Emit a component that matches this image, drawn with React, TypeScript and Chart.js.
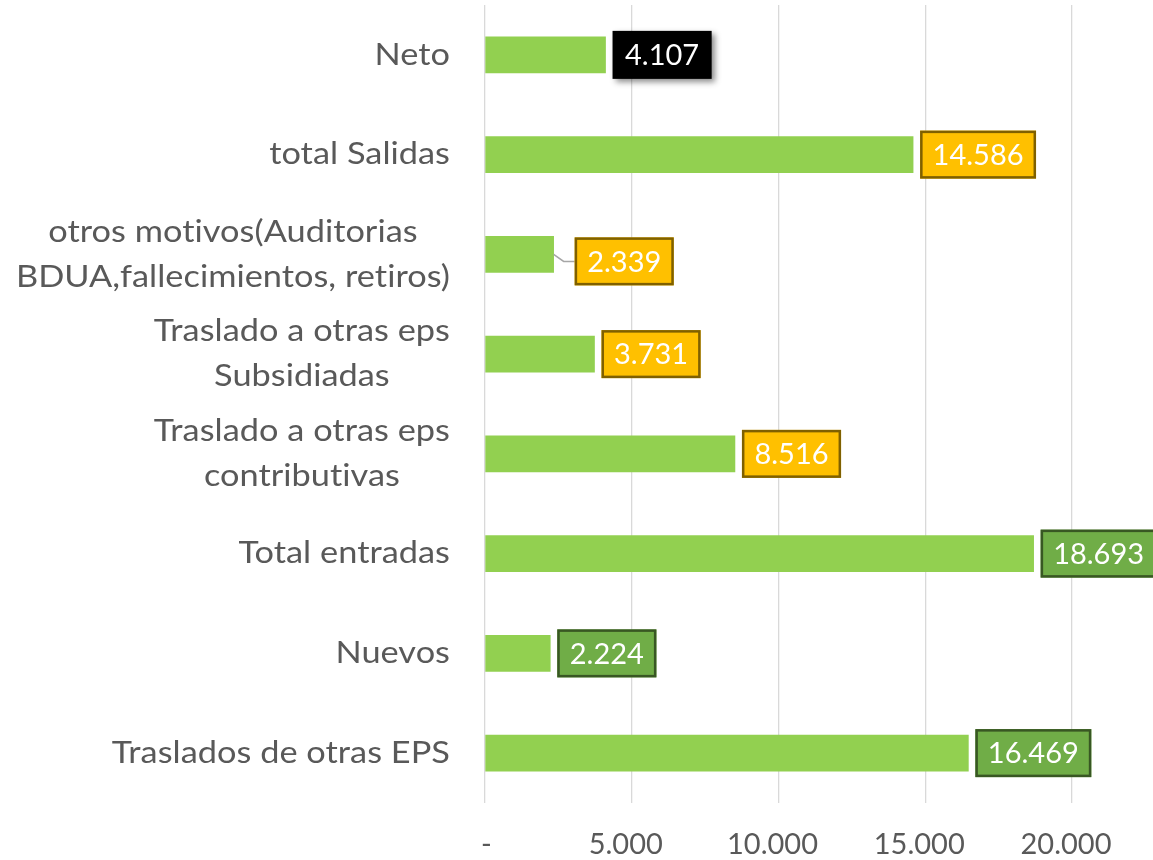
import React, { useEffect, useRef } from 'react';
import { Chart, registerables } from 'chart.js';
Chart.register(...registerables);

const categories: string[][] = [
  ['Neto'],
  ['total Salidas'],
  ['otros motivos(Auditorias', 'BDUA,fallecimientos, retiros)'],
  ['Traslado a otras eps', 'Subsidiadas'],
  ['Traslado a otras eps', 'contributivas'],
  ['Total entradas'],
  ['Nuevos'],
  ['Traslados de otras EPS'],
];
const values: number[] = [4107, 14586, 2339, 3731, 8516, 18693, 2224, 16469];
const xTickValues: number[] = [0, 5000, 10000, 15000, 20000];
const xTickLabels: string[] = ['-', '5.000', '10.000', '15.000', '20.000'];

// label box styles
const boxFill = ['#000000', '#FFC000', '#FFC000', '#FFC000', '#FFC000', '#70AD47', '#70AD47', '#70AD47'];
const boxBorder = ['', '#7F6000', '#7F6000', '#7F6000', '#7F6000', '#385723', '#385723', '#385723'];
const boxShiftX = [0, 0, 14, 0, 0, 0, 0, 0];
const boxShiftY = [0, 0, 7, 0, 0, 0, 0, 0];

const FONT = 'Lato, "Open Sans", sans-serif';
const CAT_STRETCH = 1.145;

function fmt(v: number): string {
  return String(Math.round(v)).replace(/\B(?=(\d{3})+(?!\d))/g, '.');
}

const labelPlugin = {
  id: 'customLabels',
  afterDraw(chart: any) {
    const ctx = chart.ctx as CanvasRenderingContext2D;
    const yScale = chart.scales.y;
    ctx.save();
    // category labels
    ctx.font = `30px ${FONT}`;
    (ctx as any).letterSpacing = '0.01px';
    ctx.fillStyle = '#595959';
    ctx.textBaseline = 'middle';
    ctx.textAlign = 'center';
    const rightX = 450;
    const lh = 45;
    categories.forEach((lines, i) => {
      const cy = yScale.getPixelForValue(i);
      const maxW = Math.max(...lines.map((l) => ctx.measureText(l).width)) * CAT_STRETCH;
      const cx = rightX - maxW / 2;
      lines.forEach((l, j) => {
        ctx.save();
        ctx.translate(cx, cy + (j - (lines.length - 1) / 2) * lh);
        ctx.scale(CAT_STRETCH, 1);
        ctx.fillText(l, 0, 0);
        ctx.restore();
      });
    });
    (ctx as any).letterSpacing = '0px';

    // value boxes
    const meta = chart.getDatasetMeta(0);
    ctx.font = `29px ${FONT}`;
    meta.data.forEach((bar: any, i: number) => {
      const text = fmt(values[i]);
      const tw = ctx.measureText(text).width;
      const padX = 12.5;
      const w = tw + padX * 2;
      const h = 48;
      const x = bar.x + 7 + boxShiftX[i];
      const cy = bar.y + boxShiftY[i];
      const y = cy - h / 2;
      if (boxShiftX[i] || boxShiftY[i]) {
        ctx.strokeStyle = '#A6A6A6';
        ctx.lineWidth = 1.5;
        ctx.beginPath();
        ctx.moveTo(bar.x, bar.y);
        ctx.lineTo(bar.x + 10, cy);
        ctx.lineTo(x, cy);
        ctx.stroke();
      }
      ctx.save();
      if (!boxBorder[i]) {
        ctx.shadowColor = 'rgba(0,0,0,0.45)';
        ctx.shadowBlur = 6;
        ctx.shadowOffsetX = 3;
        ctx.shadowOffsetY = 3;
      }
      ctx.fillStyle = boxFill[i];
      ctx.fillRect(x, y, w, h);
      ctx.restore();
      if (boxBorder[i]) {
        ctx.strokeStyle = boxBorder[i];
        ctx.lineWidth = 2.5;
        ctx.strokeRect(x + 1.25, y + 1.25, w - 2.5, h - 2.5);
      }
      ctx.fillStyle = '#FFFFFF';
      ctx.textAlign = 'center';
      ctx.textBaseline = 'middle';
      ctx.fillText(text, x + w / 2, cy + 1);
    });
    ctx.restore();
  },
};

export default function App() {
  const ref = useRef<HTMLCanvasElement | null>(null);
  useEffect(() => {
    document.body.style.margin = '0';
    document.body.style.overflow = 'hidden';
    if (!ref.current) return;
    const chart = new Chart(ref.current, {
      type: 'bar',
      data: {
        labels: categories.map((c) => c.join(' ')),
        datasets: [
          {
            data: values,
            backgroundColor: '#92D050',
            barThickness: 36,
          },
        ],
      },
      options: {
        indexAxis: 'y',
        responsive: false,
        animation: false,
        layout: { padding: { top: 5, right: 81, left: 0, bottom: 0 } },
        plugins: {
          legend: { display: false },
          tooltip: { enabled: false },
        },
        scales: {
          y: {
            grid: { display: false },
            border: { display: false },
            ticks: { display: false },
            afterFit: (scale: any) => {
              scale.width = 485;
            },
          },
          x: {
            min: 0,
            max: 20000,
            grid: { color: '#D9D9D9', lineWidth: 1.3, drawTicks: false },
            border: { display: false },
            afterBuildTicks: (scale: any) => {
              scale.ticks = xTickValues.map((v) => ({ value: v }));
            },
            ticks: {
              color: '#595959',
              font: { family: FONT, size: 29 },
              padding: 24,
              labelOffset: -6,
              maxRotation: 0,
              callback: (v: any) => {
                const idx = xTickValues.indexOf(Number(v));
                const t = idx >= 0 ? xTickLabels[idx] : '';
                return t === '-' ? '  -' : t;
              },
            },
            afterFit: (scale: any) => {
              scale.height = 57;
            },
          },
        },
      },
      plugins: [labelPlugin],
    });
    return () => chart.destroy();
  }, []);
  return (
    <div style={{ position: 'fixed', left: 0, top: 0, width: 1153, height: 860 }}>
      <canvas ref={ref} width={1153} height={860} style={{ display: 'block' }} />
    </div>
  );
}
